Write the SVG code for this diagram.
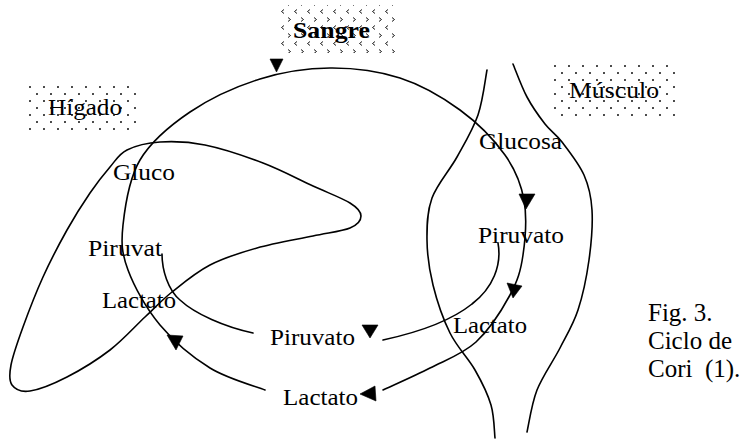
<svg xmlns="http://www.w3.org/2000/svg" width="745" height="440" viewBox="0 0 745 440">
  <defs>
    <style>
      .ln { fill: none; stroke: #000; stroke-width: 1.6; stroke-linecap: round; }
      .head { fill: #000; stroke: #000; stroke-width: 0.6; stroke-linejoin: round; }
      .lbl { font-family: "Liberation Serif", "Times New Roman", serif; font-size: 24px; fill: #000; }
      .cap { font-family: "Liberation Serif", "Times New Roman", serif; font-size: 25px; fill: #000; }
      .tag { font-family: "Liberation Serif", "Times New Roman", serif; font-size: 23px; fill: #000; }
      .tagb { font-family: "Liberation Serif", "Times New Roman", serif; font-size: 23px; font-weight: bold; fill: #000; }
    </style>
    <!-- sparse dot screen for organ labels -->
    <pattern id="dots" width="14" height="14" patternUnits="userSpaceOnUse">
      <circle cx="2" cy="3" r="0.95" fill="#000"/>
      <circle cx="9" cy="10" r="0.95" fill="#000"/>
    </pattern>
    <!-- chevron screen for the blood label -->
    <pattern id="chev" width="13" height="16" patternUnits="userSpaceOnUse">
      <path d="M2,1.5 L4.5,3.5 L2,5.5" fill="none" stroke="#000" stroke-width="0.9"/>
      <path d="M11,9.5 L8.5,11.5 L11,13.5" fill="none" stroke="#000" stroke-width="0.9"/>
    </pattern>
  </defs>

  <rect width="745" height="440" fill="#fff"/>

  <!-- compartment labels -->
  <g id="sangre">
    <rect x="278" y="5" width="117" height="48" fill="url(#chev)"/>
    <text class="tagb" x="293" y="38" textLength="77" lengthAdjust="spacingAndGlyphs">Sangre</text>
  </g>
  <g id="higado">
    <rect x="28" y="83" width="110" height="50" fill="url(#dots)"/>
    <text class="tag" x="48" y="115" textLength="74" lengthAdjust="spacingAndGlyphs">Hígado</text>
  </g>
  <g id="musculo">
    <rect x="552" y="65" width="128" height="55" fill="url(#dots)"/>
    <text class="tag" x="569" y="98" textLength="90" lengthAdjust="spacingAndGlyphs">Músculo</text>
  </g>

  <!-- liver outline -->
  <g id="liver">
    <path class="ln" d="M127,150 C135.33,145.83 147,142.83 160,142 C173,141.17 187.83,141.5 205,145 C222.17,148.5 245,156.17 263,163 C281,169.83 298.5,179.33 313,186 C327.5,192.67 342,198 350,203 C358,208 361,211.83 361,216 C361,220.17 358,224.67 350,228 C342,231.33 328.5,232.67 313,236 C297.5,239.33 274.17,243.17 257,248 C239.83,252.83 224.17,257.67 210,265 C195.83,272.33 182.83,283.33 172,292 C161.17,300.67 155.33,307.33 145,317 C134.67,326.67 123,340 110,350 C97,360 80.33,370.17 67,377 C53.67,383.830 39.17,389.67 30,391 C20.83,392.33 15.17,389.33 12,385 C8.83,380.67 9.17,374.67 11,365 C12.83,355.33 17.67,341.67 23,327 C28.33,312.33 35.67,293.17 43,277 C50.33,260.83 59.17,244 67,230 C74.83,216 82.83,203.5 90,193 C97.17,182.5 103.83,174.17 110,167 C116.17,159.83 118.67,154.17 127,150 Z"/>
  </g>

  <!-- muscle fibre outline -->
  <g id="muscle">
    <path class="ln" d="M487,70 C485.5,77.5 483,100.5 478,115 C473,129.5 464.67,143.17 457,157 C449.33,170.83 437,184.17 432,198 C427,211.83 426.83,225.5 427,240 C427.17,254.5 429.17,269.5 433,285 C436.83,300.5 443,318.83 450,333 C457,347.17 468.17,358 475,370 C481.83,382 487.67,393.67 491,405 C494.33,416.33 494.33,432.5 495,438"/>
    <path class="ln" d="M513,64 C515.33,69.5 521.67,87 527,97 C532.33,107 539.17,116.5 545,124 C550.83,131.5 555.5,133.5 562,142 C568.5,150.5 579,163.67 584,175 C589,186.33 591.17,195.83 592,210 C592.83,224.17 591.33,243.33 589,260 C586.67,276.67 582.83,295.33 578,310 C573.17,324.67 566.83,334.67 560,348 C553.17,361.33 542.5,376 537,390 C531.5,404 528.67,425 527,432"/>
  </g>

  <!-- metabolite flows -->
  <g id="connectors">
    <!-- blood loop: liver to muscle over the top, lactate back along the bottom -->
    <path class="ln" d="M265,390 C255.8,386.3 227.5,378.8 210,368 C192.5,357.2 173.7,341.3 160,325 C146.3,308.7 134.2,286.7 128,270 C121.8,253.3 121,243.3 123,225 C125,206.7 128.8,178.8 140,160 C151.2,141.2 170,125.5 190,112 C210,98.5 236.7,86.3 260,79 C283.3,71.7 306.7,68.2 330,68 C353.3,67.8 378.3,71 400,78 C421.7,85 442.5,97.2 460,110 C477.5,122.8 494.3,140 505,155 C515.7,170 521,183.3 524,200 C527,216.7 525.3,239.2 523,255 C520.7,270.8 517.8,280.5 510,295 C502.2,309.5 489.3,329.8 476,342 C462.7,354.2 445.5,360 430,368 C414.5,376 390.8,386.3 383,390"/>
    <!-- liver pyruvate branch -->
    <path class="ln" d="M162,254 C162,270 168,290 180,300 C195,314 225,327 253,333"/>
    <!-- muscle pyruvate branch -->
    <path class="ln" d="M383,340 C420,332 452,320 472,304 C493,288 502,265 498,243"/>

    <polygon class="head" points="270,59 283,59 276.5,72"/>
    <polygon class="head" points="519,194 535,194 526,209"/>
    <polygon class="head" points="507,283 522,286 513,298"/>
    <polygon class="head" points="362,325 378,325 370,338"/>
    <polygon class="head" points="360,394 375,386 376,401"/>
    <polygon class="head" points="167,335 183,336 176,350"/>
  </g>

  <!-- metabolites -->
  <g id="labels">
    <text class="lbl" x="113" y="180" textLength="62" lengthAdjust="spacingAndGlyphs">Gluco</text>
    <text class="lbl" x="88" y="256" textLength="74" lengthAdjust="spacingAndGlyphs">Piruvat</text>
    <text class="lbl" x="102" y="308" textLength="74" lengthAdjust="spacingAndGlyphs">Lactato</text>
    <text class="lbl" x="270" y="345" textLength="85" lengthAdjust="spacingAndGlyphs">Piruvato</text>
    <text class="lbl" x="283" y="405" textLength="75" lengthAdjust="spacingAndGlyphs">Lactato</text>
    <text class="lbl" x="479" y="149" textLength="83" lengthAdjust="spacingAndGlyphs">Glucosa</text>
    <text class="lbl" x="478" y="243" textLength="86" lengthAdjust="spacingAndGlyphs">Piruvato</text>
    <text class="lbl" x="453" y="333" textLength="74" lengthAdjust="spacingAndGlyphs">Lactato</text>
  </g>

  <!-- caption -->
  <g id="caption">
    <text class="cap" x="648" y="321">Fig. 3.</text>
    <text class="cap" x="648" y="349">Ciclo de</text>
    <text class="cap" x="648" y="377" xml:space="preserve">Cori  (1).</text>
  </g>
</svg>
